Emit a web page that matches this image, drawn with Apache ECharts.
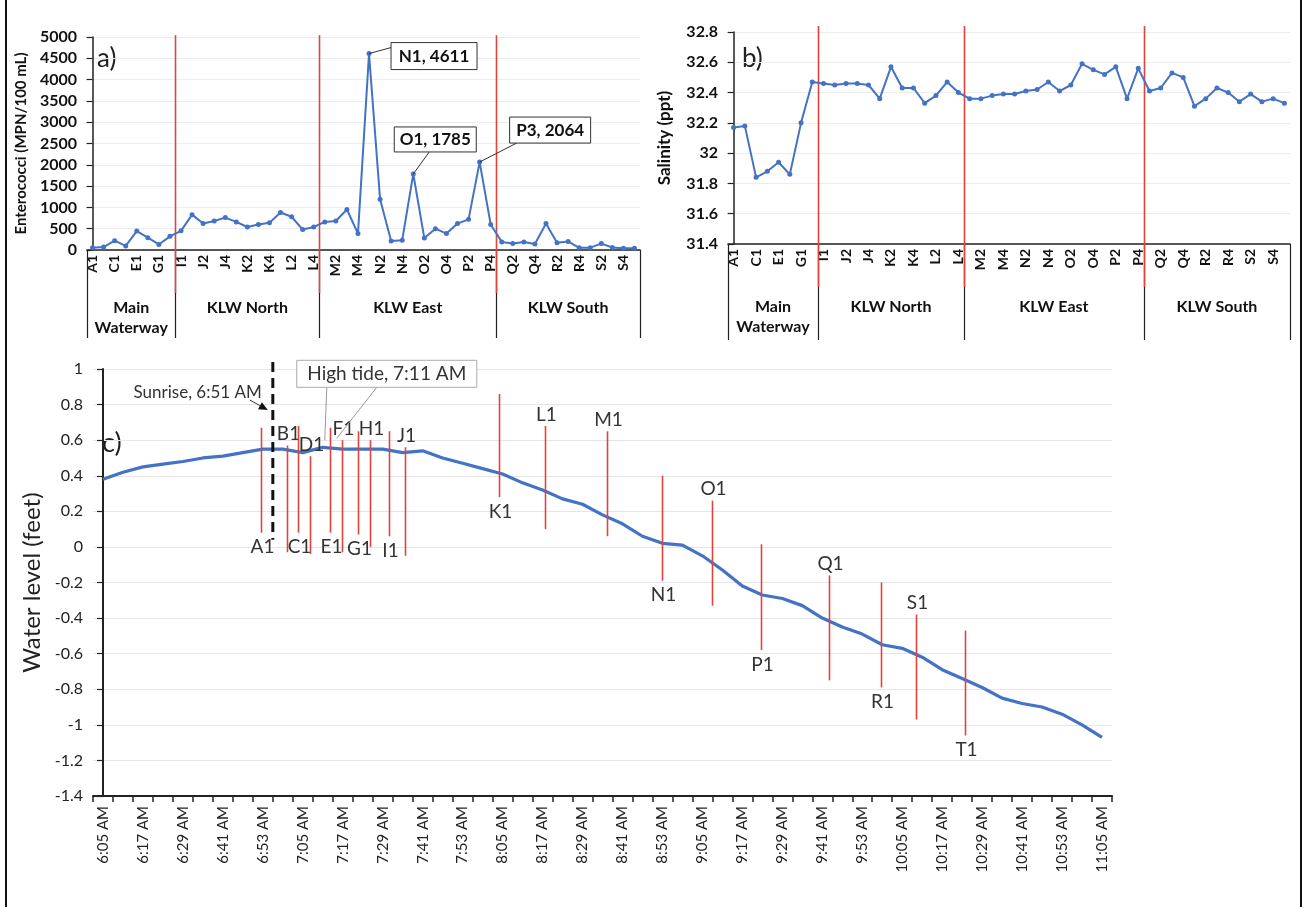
<!DOCTYPE html>
<html>
<head>
<meta charset="utf-8">
<script src="https://cdn.jsdelivr.net/npm/echarts@6/dist/echarts.min.js"></script>
<style>
html,body{margin:0;padding:0;background:#fff;}
#c{width:1304px;height:907px;}
</style>
</head>
<body>
<div id="c"></div>
<script>
// ---------------- DATA ----------------
const stations = ['A1','B1','C1','D1','E1','F1','G1','H1',
  'I1','J1','J2','J3','J4','K1','K2','K3','K4','L1','L2','L3','L4',
  'M1','M2','M3','M4','N1','N2','N3','N4','O1','O2','O3','O4','P1','P2','P3','P4',
  'Q1','Q2','Q3','Q4','R1','R2','R3','R4','S1','S2','S3','S4','T1'];
const groupNames = ['Main\nWaterway','KLW North','KLW East','KLW South'];
const groupSizes = [8, 13, 16, 13];

const enterococci = [50,70,220,95,445,290,130,320,
  450,830,620,680,760,660,540,600,640,880,780,480,540,
  660,680,950,385,4611,1190,210,230,1785,280,500,385,620,720,2064,600,
  190,150,190,140,620,170,200,50,55,150,60,40,40];
const calloutStations = ['N1','O1','P3'];

const salinity = [32.17,32.18,31.84,31.88,31.94,31.86,32.20,32.47,
  32.46,32.45,32.46,32.46,32.45,32.36,32.57,32.43,32.43,32.33,32.38,32.47,32.40,
  32.36,32.36,32.38,32.39,32.39,32.41,32.42,32.47,32.41,32.45,32.59,32.55,32.52,32.57,32.36,32.56,
  32.41,32.43,32.53,32.50,32.31,32.36,32.43,32.40,32.34,32.39,32.34,32.36,32.33];

const timeLabels = ['6:05 AM','6:11 AM','6:17 AM','6:23 AM','6:29 AM','6:35 AM','6:41 AM','6:47 AM','6:53 AM','6:59 AM',
  '7:05 AM','7:11 AM','7:17 AM','7:23 AM','7:29 AM','7:35 AM','7:41 AM','7:47 AM','7:53 AM','7:59 AM',
  '8:05 AM','8:11 AM','8:17 AM','8:23 AM','8:29 AM','8:35 AM','8:41 AM','8:47 AM','8:53 AM','8:59 AM',
  '9:05 AM','9:11 AM','9:17 AM','9:23 AM','9:29 AM','9:35 AM','9:41 AM','9:47 AM','9:53 AM','9:59 AM',
  '10:05 AM','10:11 AM','10:17 AM','10:23 AM','10:29 AM','10:35 AM','10:41 AM','10:47 AM','10:53 AM','10:59 AM',
  '11:05 AM'];
const waterLevel = [0.38,0.42,0.45,0.465,0.48,0.50,0.51,0.53,0.55,0.55,
  0.53,0.56,0.55,0.55,0.55,0.53,0.54,0.50,0.47,0.44,
  0.41,0.36,0.32,0.27,0.24,0.18,0.13,0.06,0.02,0.01,
  -0.05,-0.13,-0.22,-0.27,-0.29,-0.33,-0.40,-0.45,-0.49,-0.55,
  -0.57,-0.62,-0.69,-0.74,-0.79,-0.85,-0.88,-0.90,-0.94,-1.00,-1.07];

// sampling marks on panel c (minutes after 6:05 AM, water-level span of each red bar)
const sampleNames   = ['A1','B1','C1','D1','E1','F1','G1','H1','I1','J1','K1','L1','M1','N1','O1','P1','Q1','R1','S1','T1'];
const sampleMinutes = [47.5,55.2,58.5,62.2,68.2,71.7,76.5,80.3,86,90.8,118.8,132.8,151.3,168,183,197.7,218,233.7,244.2,258.8];
const sampleTop     = [0.67,0.57,0.68,0.51,0.67,0.60,0.65,0.60,0.65,0.56,0.86,0.68,0.65,0.40,0.26,0.015,-0.16,-0.20,-0.38,-0.47];
const sampleBottom  = [0.08,-0.03,0.08,-0.04,0.08,-0.03,0.07,0.00,0.06,-0.05,0.28,0.10,0.06,-0.19,-0.33,-0.58,-0.75,-0.79,-0.97,-1.06];
const sampleLabelAt = ['bottom','top','bottom','top','bottom','top','bottom','top','bottom','top',
  'bottom','top','top','bottom','top','bottom','top','bottom','top','bottom'];

const sunriseLabel = 'Sunrise, 6:51 AM';
const sunriseMinute = 51;
const sunriseSpan = [1.04, 0.04];
const highTideLabel = 'High tide, 7:11 AM';
const highTideMinute = 66;
const highTideLevel = 0.56;

// ---------------- STYLE ----------------
const FONT = 'Lato';
const RED = '#e0443c';
const BLUE = '#4472c4';
const callOutStyle = { // box offsets in px relative to the marked point
  N1: {dx: 22, dy: -11, w: 86, h: 27, lx: 22, ly: -6},
  O1: {dx: -19, dy: -47, w: 82, h: 25, lx: 16, ly: -22},
  P3: {dx: 30, dy: -45, w: 81, h: 26, lx: 37, ly: -19}
};

const bounds = [-0.5];
groupSizes.forEach(n => bounds.push(bounds[bounds.length - 1] + n));

function groupDecor(api, o) {
  const yAx = api.coord([0, o.yMin])[1];
  const children = [];
  bounds.forEach((b, k) => {
    const x = Math.round(api.coord([b, o.yMin])[0]) + 0.5;
    children.push({type: 'line', shape: {x1: x, y1: yAx, x2: x, y2: yAx + o.sepBelow},
      style: {stroke: '#222', lineWidth: 1.2}});
    if (k > 0 && k < bounds.length - 1) {
      const yt = api.coord([b, o.yTop])[1];
      children.push({type: 'line', shape: {x1: x, y1: yt, x2: x, y2: yAx + o.redBelow},
        style: {stroke: RED, lineWidth: 1.6}});
    }
  });
  groupNames.forEach((g, k) => {
    const cx = api.coord([(bounds[k] + bounds[k + 1]) / 2, o.yMin])[0];
    children.push({type: 'text', x: cx, y: yAx + o.textTop,
      style: {text: g, fill: '#111', fontFamily: FONT, fontWeight: 'bold', fontSize: 16,
        lineHeight: 20, align: 'center', verticalAlign: 'top'}});
  });
  return {type: 'group', children};
}

const catAxisCommon = {
  type: 'category', boundaryGap: true,
  axisLine: {show: true, onZero: false, lineStyle: {color: '#222', width: 1.5}},
  axisTick: {show: false},
  splitLine: {show: false},
  axisLabel: {interval: 1, rotate: 90, margin: 5, color: '#111', fontFamily: FONT, fontWeight: 'bold', fontSize: 14}
};
const valAxisCommon = {
  type: 'value',
  axisLine: {show: true, lineStyle: {color: '#222', width: 1.5}},
  axisTick: {show: true, inside: false, length: 6, lineStyle: {color: '#222', width: 1.2}},
  splitLine: {show: true, lineStyle: {color: '#ececec', width: 1}},
  axisLabel: {color: '#111', fontFamily: FONT, fontWeight: 'bold', fontSize: 16, margin: 10},
  nameLocation: 'middle',
  nameTextStyle: {color: '#111', fontFamily: FONT, fontWeight: 'bold', fontSize: 15}
};

const option = {
  animation: false,
  backgroundColor: '#fff',
  grid: [
    {left: 87, top: 37, width: 553, height: 213, outerBoundsMode: 'none', containLabel: false},
    {left: 728, top: 32, width: 562, height: 212, outerBoundsMode: 'none', containLabel: false},
    {left: 93, top: 369, width: 1019, height: 427, outerBoundsMode: 'none', containLabel: false}
  ],
  xAxis: [
    Object.assign({}, catAxisCommon, {gridIndex: 0, data: stations}),
    {type: 'value', gridIndex: 0, min: -0.5, max: 49.5, show: false},
    Object.assign({}, catAxisCommon, {gridIndex: 1, data: stations}),
    {type: 'value', gridIndex: 1, min: -0.5, max: 49.5, show: false},
    {type: 'category', gridIndex: 2, data: timeLabels, boundaryGap: true,
      axisLine: {show: true, onZero: false, lineStyle: {color: '#222', width: 2}},
      axisTick: {show: true, interval: 0, alignWithLabel: false, length: 6, lineStyle: {color: '#222', width: 1.5}},
      axisLabel: {interval: 1, rotate: 90, margin: 10, color: '#222', fontFamily: FONT, fontSize: 15},
      splitLine: {show: false}},
    {type: 'value', gridIndex: 2, min: -3, max: 303, show: false}
  ],
  yAxis: [
    Object.assign({}, valAxisCommon, {gridIndex: 0, min: 0, max: 5000, interval: 500,
      name: 'Enterococci (MPN/100 mL)', nameGap: 58,
      axisLabel: Object.assign({}, valAxisCommon.axisLabel, {formatter: v => String(v)})}),
    Object.assign({}, valAxisCommon, {gridIndex: 1, min: 31.4, max: 32.8, interval: 0.2,
      name: 'Salinity (ppt)', nameGap: 55,
      nameTextStyle: {color: '#111', fontFamily: FONT, fontWeight: 'bold', fontSize: 17}}),
    Object.assign({}, valAxisCommon, {gridIndex: 2, min: -1.4, max: 1, interval: 0.2,
      name: 'Water level (feet)', nameGap: 44,
      splitLine: {show: true, lineStyle: {color: '#e6e6e6', width: 1}},
      axisLine: {show: true, lineStyle: {color: '#222', width: 2}},
      axisLabel: {color: '#222', fontFamily: FONT, fontSize: 16, margin: 10},
      nameTextStyle: {color: '#222', fontFamily: FONT, fontSize: 24}})
  ],
  series: [
    // panel a decorations
    {type: 'custom', xAxisIndex: 1, yAxisIndex: 0, z: 1, silent: true, clip: false, data: [[0, 0]],
      renderItem: (p, api) => groupDecor(api, {yMin: 0, yTop: 5040, redBelow: 43, sepBelow: 88, textTop: 48})},
    {type: 'line', xAxisIndex: 0, yAxisIndex: 0, z: 3, data: enterococci,
      symbol: 'circle', symbolSize: 5, showSymbol: true,
      lineStyle: {color: BLUE, width: 2}, itemStyle: {color: BLUE}},
    // panel a callouts
    {type: 'custom', xAxisIndex: 1, yAxisIndex: 0, z: 4, silent: true, clip: false,
      data: calloutStations.map(s => [stations.indexOf(s), enterococci[stations.indexOf(s)], s]),
      renderItem: (p, api) => {
        const name = calloutStations[p.dataIndex];
        const v = api.value(1);
        const pt = api.coord([api.value(0), v]);
        const c = callOutStyle[name];
        return {type: 'group', children: [
          {type: 'line', shape: {x1: pt[0], y1: pt[1], x2: pt[0] + c.lx, y2: pt[1] + c.ly},
            style: {stroke: '#333', lineWidth: 1}},
          {type: 'rect', shape: {x: pt[0] + c.dx, y: pt[1] + c.dy, width: c.w, height: c.h},
            style: {fill: '#fff', stroke: '#333', lineWidth: 1}},
          {type: 'text', x: pt[0] + c.dx + c.w / 2, y: pt[1] + c.dy + c.h / 2,
            style: {text: name + ', ' + v, fill: '#111', fontFamily: FONT, fontWeight: 'bold', fontSize: 17,
              align: 'center', verticalAlign: 'middle'}}
        ]};
      }},
    // panel b decorations
    {type: 'custom', xAxisIndex: 3, yAxisIndex: 1, z: 1, silent: true, clip: false, data: [[0, 31.4]],
      renderItem: (p, api) => groupDecor(api, {yMin: 31.4, yTop: 32.84, redBelow: 43, sepBelow: 96, textTop: 53})},
    {type: 'line', xAxisIndex: 2, yAxisIndex: 1, z: 3, data: salinity,
      symbol: 'circle', symbolSize: 5, showSymbol: true,
      lineStyle: {color: BLUE, width: 2}, itemStyle: {color: BLUE}},
    // panel c water level
    {type: 'line', xAxisIndex: 4, yAxisIndex: 2, z: 3, data: waterLevel,
      symbol: 'none', lineStyle: {color: BLUE, width: 3.2}},
    // panel c sampling marks
    {type: 'custom', xAxisIndex: 5, yAxisIndex: 2, z: 4, silent: true, clip: false,
      data: sampleNames.map((n, i) => [sampleMinutes[i], sampleTop[i], sampleBottom[i]]),
      renderItem: (p, api) => {
        const i = p.dataIndex;
        const t = api.coord([api.value(0), api.value(1)]);
        const b = api.coord([api.value(0), api.value(2)]);
        const x = Math.round(t[0]) + 0.5;
        const atTop = sampleLabelAt[i] === 'top';
        return {type: 'group', children: [
          {type: 'line', shape: {x1: x, y1: t[1], x2: x, y2: b[1]}, style: {stroke: RED, lineWidth: 1.6}},
          {type: 'text', x: x + 1, y: atTop ? t[1] - 2 : b[1] + 5,
            style: {text: sampleNames[i], fill: '#333', fontFamily: FONT, fontSize: 19,
              align: 'center', verticalAlign: atTop ? 'bottom' : 'top'}}
        ]};
      }},
    // sunrise marker
    {type: 'custom', xAxisIndex: 5, yAxisIndex: 2, z: 5, silent: true, clip: false, data: [[sunriseMinute, 1]],
      renderItem: (p, api) => {
        const t = api.coord([sunriseMinute, sunriseSpan[0]]);
        const b = api.coord([sunriseMinute, sunriseSpan[1]]);
        const r = api.coord([sunriseMinute, 1]);
        const x = t[0];
        const ax1 = x - 23, ay1 = r[1] + 31, ax2 = x - 5, ay2 = r[1] + 41;
        const ang = Math.atan2(ay2 - ay1, ax2 - ax1);
        const L = 9, W = 4;
        const bx = ax2 - L * Math.cos(ang), by = ay2 - L * Math.sin(ang);
        return {type: 'group', children: [
          {type: 'line', shape: {x1: x, y1: t[1], x2: x, y2: b[1]},
            style: {stroke: '#111', lineWidth: 3, lineDash: [10, 6]}},
          {type: 'text', x: x - 11, y: r[1] + 24,
            style: {text: sunriseLabel, fill: '#333', fontFamily: FONT, fontSize: 17, align: 'right', verticalAlign: 'middle'}},
          {type: 'line', shape: {x1: ax1, y1: ay1, x2: bx, y2: by}, style: {stroke: '#333', lineWidth: 1}},
          {type: 'polygon', shape: {points: [[ax2, ay2],
            [bx + W * Math.sin(ang), by - W * Math.cos(ang)], [bx - W * Math.sin(ang), by + W * Math.cos(ang)]]},
            style: {fill: '#111'}}
        ]};
      }},
    // high tide callout
    {type: 'custom', xAxisIndex: 5, yAxisIndex: 2, z: 5, silent: true, clip: false, data: [[highTideMinute, highTideLevel]],
      renderItem: (p, api) => {
        const a = api.coord([highTideMinute, highTideLevel]);
        return {type: 'group', children: [
          {type: 'line', shape: {x1: a[0] + 4, y1: a[1] - 60, x2: a[0] + 2, y2: a[1] - 7}, style: {stroke: '#999', lineWidth: 1}},
          {type: 'line', shape: {x1: a[0] + 54, y1: a[1] - 60, x2: a[0] + 14, y2: a[1] - 9}, style: {stroke: '#999', lineWidth: 1}},
          {type: 'rect', shape: {x: a[0] - 26, y: a[1] - 87, width: 180, height: 27},
            style: {fill: '#fff', stroke: '#aaa', lineWidth: 1}},
          {type: 'text', x: a[0] + 64, y: a[1] - 73,
            style: {text: highTideLabel, fill: '#333', fontFamily: FONT, fontSize: 19, align: 'center', verticalAlign: 'middle'}}
        ]};
      }}
  ],
  graphic: [
    {type: 'text', left: 97, top: 46, style: {text: 'a)', fill: '#222', font: '26px Lato'}},
    {type: 'text', left: 742, top: 46, style: {text: 'b)', fill: '#222', font: '26px Lato'}},
    {type: 'text', left: 102, top: 430, style: {text: 'c)', fill: '#222', font: '27px Lato'}},
    {type: 'rect', left: 5, top: 0, shape: {width: 2, height: 907}, style: {fill: '#111'}},
    {type: 'rect', left: 1300, top: 0, shape: {width: 2, height: 907}, style: {fill: '#111'}}
  ]
};

const chart = echarts.init(document.getElementById('c'));
chart.setOption(option);
</script>
</body>
</html>
